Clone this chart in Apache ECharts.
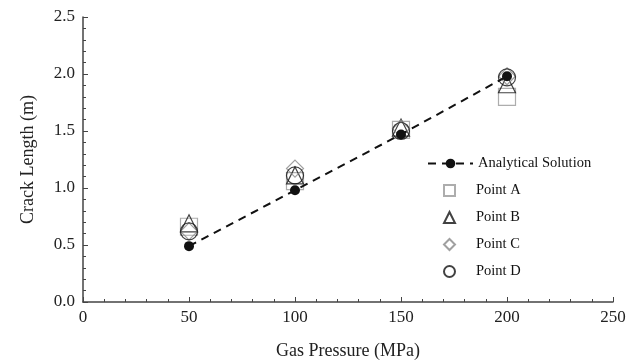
<!DOCTYPE html>
<html>
<head>
<meta charset="utf-8">
<script src="https://cdn.jsdelivr.net/npm/echarts@6/dist/echarts.min.js"></script>
<style>
  html, body { margin: 0; padding: 0; background: #fff; }
  #chart { width: 643px; height: 361px; }
</style>
</head>
<body>
<div id="chart"></div>
<script>
// Gas pressure (MPa) at which crack length was evaluated
const pressure = [50, 100, 150, 200];
// Crack length (m)
const analytical = [0.49, 0.98, 1.47, 1.98];
const pointA = [0.66, 1.06, 1.51, 1.80];
const pointB = [0.69, 1.11, 1.53, 1.91];
const pointC = [0.62, 1.17, 1.52, 1.98];
const pointD = [0.62, 1.11, 1.50, 1.97];

const xTicks = { min: 0, max: 250, interval: 50 };
const yTicks = { min: 0, max: 2.5, interval: 0.5 };

const pairs = (ys) => pressure.map((x, i) => [x, ys[i]]);
const serif = 'Liberation Serif, Times New Roman, serif';
const axisColor = '#444';

function markerSeries(name, values, symbol, color) {
  return {
    name: name,
    type: 'scatter',
    data: pairs(values),
    symbol: symbol,
    symbolSize: 17,
    itemStyle: { color: 'transparent', borderColor: color, borderWidth: 1.2 },
    z: 2
  };
}

const chart = echarts.init(document.getElementById('chart'), null, { renderer: 'canvas' });
chart.setOption({
  animation: false,
  backgroundColor: '#fff',
  textStyle: { fontFamily: serif },
  grid: { left: 83, right: 30, top: 17, bottom: 59, containLabel: false, outerBoundsMode: 'none' },
  legend: [
    {
      data: ['Analytical Solution'],
      orient: 'vertical',
      left: 422,
      top: 151,
      itemWidth: 45,
      itemHeight: 12,
      itemGap: 12,
      textStyle: { fontFamily: serif, fontSize: 14.5, color: '#111' }
    },
    {
      data: ['Point A', 'Point B', 'Point C', 'Point D'],
      orient: 'vertical',
      left: 438,
      top: 178,
      itemWidth: 11,
      itemHeight: 11,
      itemGap: 12,
      textStyle: { fontFamily: serif, fontSize: 14.5, color: '#111', padding: [0, 0, 0, 16] }
    }
  ],
  xAxis: {
    type: 'value',
    min: xTicks.min,
    max: xTicks.max,
    interval: xTicks.interval,
    name: 'Gas Pressure (MPa)',
    nameLocation: 'middle',
    nameGap: 40,
    nameTextStyle: { fontFamily: serif, fontSize: 18, color: '#222' },
    axisLine: { lineStyle: { color: axisColor, width: 1.5 } },
    axisTick: { inside: true, length: 5, lineStyle: { color: axisColor } },
    minorTick: { show: true, splitNumber: 5, length: 3, lineStyle: { color: axisColor } },
    splitLine: { show: false },
    axisLabel: { fontFamily: serif, fontSize: 17, color: '#222', margin: 7 }
  },
  yAxis: {
    type: 'value',
    min: yTicks.min,
    max: yTicks.max,
    interval: yTicks.interval,
    name: 'Crack Length (m)',
    nameLocation: 'middle',
    nameGap: 46,
    nameRotate: 90,
    nameTextStyle: { fontFamily: serif, fontSize: 18, color: '#222' },
    axisLine: { show: true, lineStyle: { color: axisColor, width: 1.5 } },
    axisTick: { show: true, inside: true, length: 5, lineStyle: { color: axisColor } },
    minorTick: { show: true, splitNumber: 5, length: 3, lineStyle: { color: axisColor } },
    splitLine: { show: false },
    axisLabel: {
      fontFamily: serif, fontSize: 17, color: '#222', margin: 8,
      formatter: (v) => v.toFixed(1)
    }
  },
  series: [
    markerSeries('Point A', pointA, 'rect', '#999'),
    markerSeries('Point B', pointB, 'triangle', '#111'),
    markerSeries('Point C', pointC, 'diamond', '#888'),
    markerSeries('Point D', pointD, 'circle', '#111'),
    {
      name: 'Analytical Solution',
      type: 'line',
      data: pairs(analytical),
      symbol: 'circle',
      symbolSize: 10,
      itemStyle: { color: '#111' },
      lineStyle: { color: '#111', width: 2, type: [8, 6] },
      z: 3
    }
  ]
});
</script>
</body>
</html>
